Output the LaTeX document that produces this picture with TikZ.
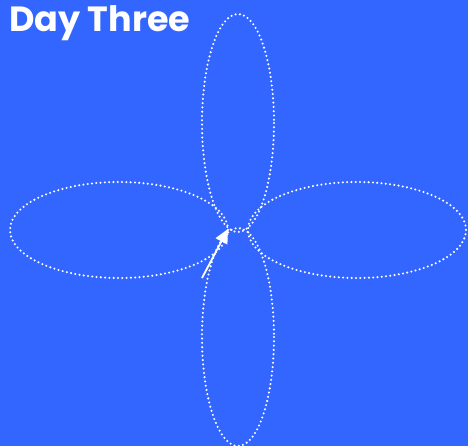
\documentclass[tikz,border=0pt]{standalone}
\usepackage{fontspec}
\setmainfont{Poppins}
\usetikzlibrary{arrows.meta}
\definecolor{bg}{HTML}{3366FF}
\tikzset{
  petal/.style={draw=white, line width=2.3pt, dash pattern=on 0pt off 4.3pt, line cap=round},
  title/.style={text=white, font=\fontsize{35}{40}\selectfont\bfseries, anchor=north west, inner sep=0pt},
  pointer/.style={draw=white, line width=1.8pt, -{Triangle[width=13pt,length=14pt]}}
}
\begin{document}
\begin{tikzpicture}[x=1pt,y=-1pt]
\fill[bg] (0,0) rectangle (468,446);
\useasboundingbox (0,0) rectangle (468,446);
\draw[petal] (238,123) ellipse [x radius=36, y radius=109];
\draw[petal] (238,337) ellipse [x radius=36, y radius=109];
\draw[petal] (119,230) ellipse [x radius=109, y radius=48];
\draw[petal] (357,230) ellipse [x radius=109, y radius=48];
\node[title] (t) at (9,5) {Day Three};
\coordinate (tail) at (202,278);
\coordinate (tip) at (228,229);
\draw[pointer] (tail) -- (tip);
\end{tikzpicture}
\end{document}
